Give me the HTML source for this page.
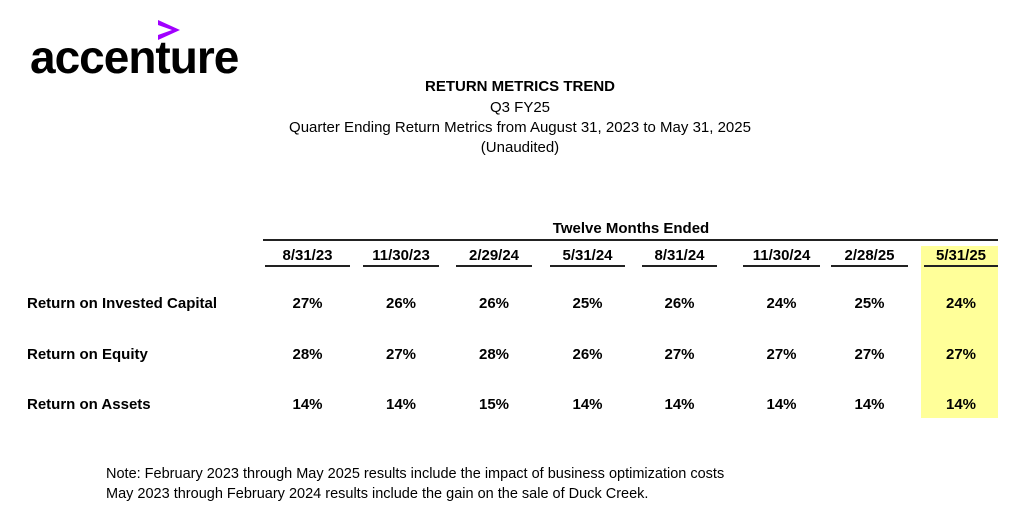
<!DOCTYPE html>
<html><head><meta charset="utf-8">
<style>
body{margin:0;width:1024px;height:515px;background:#fff;position:relative;overflow:hidden;font-family:"Liberation Sans",Arial,sans-serif;color:#000}
.a{position:absolute;white-space:nowrap}
.c{transform:translateX(-50%);text-align:center}
.b{font-weight:bold}
.ln{position:absolute;background:#222;height:2px}
</style></head><body>
<div class="a" style="left:0;top:0">
<svg width="260" height="90"><polygon points="158,20 180,30 158,40 158,35 172,30 158,25" fill="#a100ff"/></svg>
<div class="a b" style="left:30px;top:30px;font-size:46px;letter-spacing:-1px">accenture</div>
</div>
<div class="a c b" style="left:520px;top:78px;font-size:15px">RETURN METRICS TREND</div>
<div class="a c" style="left:520px;top:99px;font-size:15px">Q3 FY25</div>
<div class="a c" style="left:520px;top:119px;font-size:15px">Quarter Ending Return Metrics from August 31, 2023 to May 31, 2025</div>
<div class="a c" style="left:520px;top:139px;font-size:15px">(Unaudited)</div>
<div class="a" style="left:921px;top:246px;width:77px;height:172px;background:#ffff99"></div>
<div class="a c b" style="left:631px;top:220px;font-size:15px">Twelve Months Ended</div>
<div class="ln" style="left:263px;top:239px;width:735px"></div>
<div id="tbl"></div>
<div class="a" style="left:106px;top:466px;font-size:14.5px">Note: February 2023 through May 2025 results include the impact of business optimization costs</div>
<div class="a" style="left:106px;top:486px;font-size:14.5px">May 2023 through February 2024 results include the gain on the sale of Duck Creek.</div>
<script>
const periods=["8/31/23","11/30/23","2/29/24","5/31/24","8/31/24","11/30/24","2/28/25","5/31/25"];
const metrics=["Return on Invested Capital","Return on Equity","Return on Assets"];
const roic=[27,26,26,25,26,24,25,24];
const roe=[28,27,28,26,27,27,27,27];
const roa=[14,14,15,14,14,14,14,14];
const series=[roic,roe,roa];
const colL=[265,363,456,550,642,743,831,924],colR=[350,439,532,625,717,820,908,998];
const rowY=[295,346,396];
const t=document.getElementById('tbl');
periods.forEach((p,i)=>{
 const cx=(colL[i]+colR[i])/2;
 const h=document.createElement('div');
 h.className='a c b';h.style.cssText=`left:${cx}px;top:247px;font-size:15px`;h.textContent=p;
 
 
 t.appendChild(h);
 const l=document.createElement('div');
 l.className='ln';l.style.cssText=`left:${colL[i]}px;top:265px;width:${colR[i]-colL[i]}px`;
 
 
 t.appendChild(l);
});
metrics.forEach((m,r)=>{
 const d=document.createElement('div');
 d.className='a b';d.style.cssText=`left:27px;top:${rowY[r]}px;font-size:15px`;d.textContent=m;
 
 
 t.appendChild(d);
 series[r].forEach((v,i)=>{
  const c=document.createElement('div');
  c.className='a c b';c.style.cssText=`left:${(colL[i]+colR[i])/2}px;top:${rowY[r]}px;font-size:15px`;c.textContent=v+'%';
  
  
  t.appendChild(c);
 });
});
</script>
</body></html>
